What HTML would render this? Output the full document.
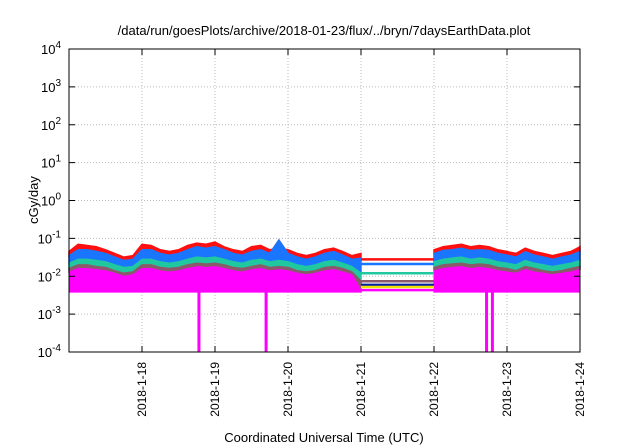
<!DOCTYPE html>
<html><head><meta charset="utf-8"><style>
body{margin:0;background:#fff;}
svg{display:block;font-family:"Liberation Sans",sans-serif;}
</style></head><body>
<svg id="c" width="640" height="448"></svg>
<script>
const tickDays=[1,2,3,4,5,6,7];
const tickLabels=["2018-1-18","2018-1-19","2018-1-20","2018-1-21","2018-1-22","2018-1-23","2018-1-24"];
const yExp=[-4,-3,-2,-1,0,1,2,3,4];
// time in days since 2018-01-17 00:00 (3-hour samples)
const t1=[0,0.125,0.25,0.375,0.5,0.625,0.75,0.875,1,1.125,1.25,1.375,1.5,1.625,1.75,1.875,2,2.125,2.25,2.375,2.5,2.625,2.75,2.875,3,3.125,3.25,3.375,3.5,3.625,3.75,3.875,4];
const t2=[5,5.125,5.25,5.375,5.5,5.625,5.75,5.875,6,6.125,6.25,6.375,6.5,6.625,6.75,6.875,7];
const red1=[0.045,0.07,0.065,0.06,0.05,0.04,0.032,0.035,0.07,0.065,0.05,0.045,0.05,0.065,0.075,0.07,0.08,0.06,0.05,0.045,0.06,0.065,0.05,0.055,0.05,0.04,0.035,0.04,0.05,0.055,0.045,0.035,0.04];
const red2=[0.05,0.06,0.065,0.07,0.06,0.065,0.06,0.05,0.045,0.04,0.055,0.045,0.04,0.035,0.04,0.045,0.06];
const blue1=[0.035,0.05,0.05,0.045,0.04,0.032,0.026,0.028,0.05,0.05,0.04,0.036,0.04,0.05,0.06,0.055,0.06,0.05,0.04,0.036,0.045,0.05,0.04,0.09,0.04,0.032,0.028,0.032,0.04,0.045,0.036,0.028,0.03];
const blue2=[0.04,0.048,0.05,0.055,0.048,0.05,0.048,0.04,0.036,0.032,0.044,0.036,0.032,0.028,0.032,0.036,0.045];
const teal1=[0.022,0.028,0.028,0.026,0.024,0.02,0.017,0.018,0.028,0.028,0.024,0.022,0.024,0.028,0.032,0.03,0.032,0.028,0.024,0.022,0.026,0.028,0.024,0.026,0.024,0.02,0.018,0.02,0.024,0.026,0.022,0.018,0.012];
const teal2=[0.024,0.028,0.03,0.032,0.028,0.03,0.028,0.024,0.022,0.02,0.026,0.022,0.02,0.018,0.02,0.022,0.026];
const brown1=[0.016,0.02,0.02,0.018,0.017,0.014,0.012,0.013,0.02,0.02,0.017,0.016,0.017,0.02,0.022,0.021,0.022,0.02,0.017,0.016,0.018,0.02,0.017,0.018,0.017,0.014,0.013,0.014,0.017,0.018,0.016,0.013,0.0074];
const brown2=[0.017,0.02,0.021,0.022,0.02,0.021,0.02,0.017,0.016,0.014,0.018,0.016,0.014,0.013,0.014,0.016,0.018];
const magHi1=[0.013,0.016,0.016,0.015,0.014,0.012,0.01,0.011,0.016,0.016,0.014,0.013,0.014,0.016,0.018,0.017,0.018,0.016,0.014,0.013,0.015,0.016,0.014,0.015,0.014,0.012,0.011,0.012,0.014,0.015,0.013,0.011,0.0043];
const magHi2=[0.014,0.016,0.017,0.018,0.016,0.017,0.016,0.014,0.013,0.012,0.015,0.013,0.012,0.011,0.012,0.013,0.015];
const magLo=0.0038;
const gapT=[4,5];
const gapVals={red:0.028,blue:0.021,teal:0.012,brown:0.0074,navy:0.0059,yellow:0.0052,magenta:0.0043};
const dips=[1.78,2.7,5.72,5.8];

const L=69,R=580,T=49,B=352;
const x=d=>L+(R-L)*d/7;
const y=v=>B-(Math.log10(v)+4)*(B-T)/8;
const svg=document.getElementById('c');
const NS='http://www.w3.org/2000/svg';
function el(tag,attrs,txt){const e=document.createElementNS(NS,tag);for(const k in attrs)e.setAttribute(k,attrs[k]);if(txt!==undefined)e.textContent=txt;svg.appendChild(e);return e;}

// grid
tickDays.forEach(d=>{const g=el('line',{x1:x(d),x2:x(d),y1:T,y2:B,stroke:'#bbb','stroke-dasharray':'1,2'});});
yExp.forEach(e=>{if(e===-4||e===4)return;const g=el('line',{x1:L,x2:R,y1:y(Math.pow(10,e)),y2:y(Math.pow(10,e)),stroke:'#bbb','stroke-dasharray':'1,2'});});

function line(ts,vs,col,name,w){const p=el('polyline',{points:ts.map((t,i)=>x(t)+','+y(vs[i])).join(' '),fill:'none',stroke:col,'stroke-width':w||2});}
function band(ts,hi,col,name){const pts=ts.map((t,i)=>x(t)+','+y(hi[i])).concat(ts.slice().reverse().map(t=>x(t)+','+y(magLo)));const p=el('polygon',{points:pts.join(' '),fill:col,stroke:col,'stroke-width':1});}
function fillBetween(ts,hi,lo,col,name){const pts=ts.map((t,i)=>x(t)+','+y(hi[i])).concat(ts.map((t,i)=>[t,lo[i]]).reverse().map(a=>x(a[0])+','+y(a[1])));const p=el('polygon',{points:pts.join(' '),fill:col,stroke:col,'stroke-width':1.5});}

[[t1,red1,blue1],[t2,red2,blue2]].forEach(s=>fillBetween(s[0],s[1],s[2],'#ff1010','red-series'));
[[t1,blue1,teal1],[t2,blue2,teal2]].forEach(s=>fillBetween(s[0],s[1],s[2],'#1a75ff','blue-series'));
[[t1,teal1,brown1],[t2,teal2,brown2]].forEach(s=>fillBetween(s[0],s[1],s[2],'#20c8a0','teal-series'));
[[t1,brown1,magHi1],[t2,brown2,magHi2]].forEach(s=>fillBetween(s[0],s[1],s[2],'#8a5a6a','brown-series'));
band(t1,magHi1,'#ff00ff','magenta-series');
band(t2,magHi2,'#ff00ff','magenta-series');
// gap lines
const gapCols={red:'#ff1010',blue:'#1a75ff',teal:'#20c8a0',brown:'#8a5a6a',navy:'#0020a0',yellow:'#f0e000',magenta:'#ff00ff'};
Object.keys(gapVals).forEach(k=>line(gapT,[gapVals[k],gapVals[k]],gapCols[k],'gap-line-'+k,2.5));
dips.forEach(d=>{const r=el('rect',{x:x(d)-1.5,y:y(magLo),width:3,height:B-y(magLo),fill:'#ff00ff'});});

// frame
const f=el('rect',{x:L,y:T,width:R-L,height:B-T,fill:'none',stroke:'#000','stroke-width':1});

yExp.forEach(e=>{const yy=y(Math.pow(10,e));
 el('line',{x1:L,x2:L+6,y1:yy,y2:yy,stroke:'#000'});el('line',{x1:R,x2:R-6,y1:yy,y2:yy,stroke:'#000'});
 const tx=el('text',{x:L-8,y:yy+5,'text-anchor':'end','font-size':13,fill:'#000'});
 
 tx.textContent='10';const s=document.createElementNS(NS,'tspan');s.setAttribute('dy','-6');s.setAttribute('font-size','10');s.textContent=String(e);tx.appendChild(s);
});
tickDays.forEach((d,i)=>{const xx=x(d);
 el('line',{x1:xx,x2:xx,y1:B,y2:B-6,stroke:'#000'});el('line',{x1:xx,x2:xx,y1:T,y2:T+6,stroke:'#000'});
 const tx=el('text',{x:xx+4,y:B+10,'text-anchor':'end','font-size':12,fill:'#000',transform:'rotate(-90 '+(xx+4)+' '+(B+10)+')'},tickLabels[i]);
 
});
const ti=el('text',{x:324,y:35,'text-anchor':'middle','font-size':13},'/data/run/goesPlots/archive/2018-01-23/flux/../bryn/7daysEarthData.plot');

const yt=el('text',{x:38,y:200,'text-anchor':'middle','font-size':13,transform:'rotate(-90 38 200)'},'cGy/day');

const xt=el('text',{x:324,y:442,'text-anchor':'middle','font-size':13},'Coordinated Universal Time (UTC)');

</script>
</body></html>
